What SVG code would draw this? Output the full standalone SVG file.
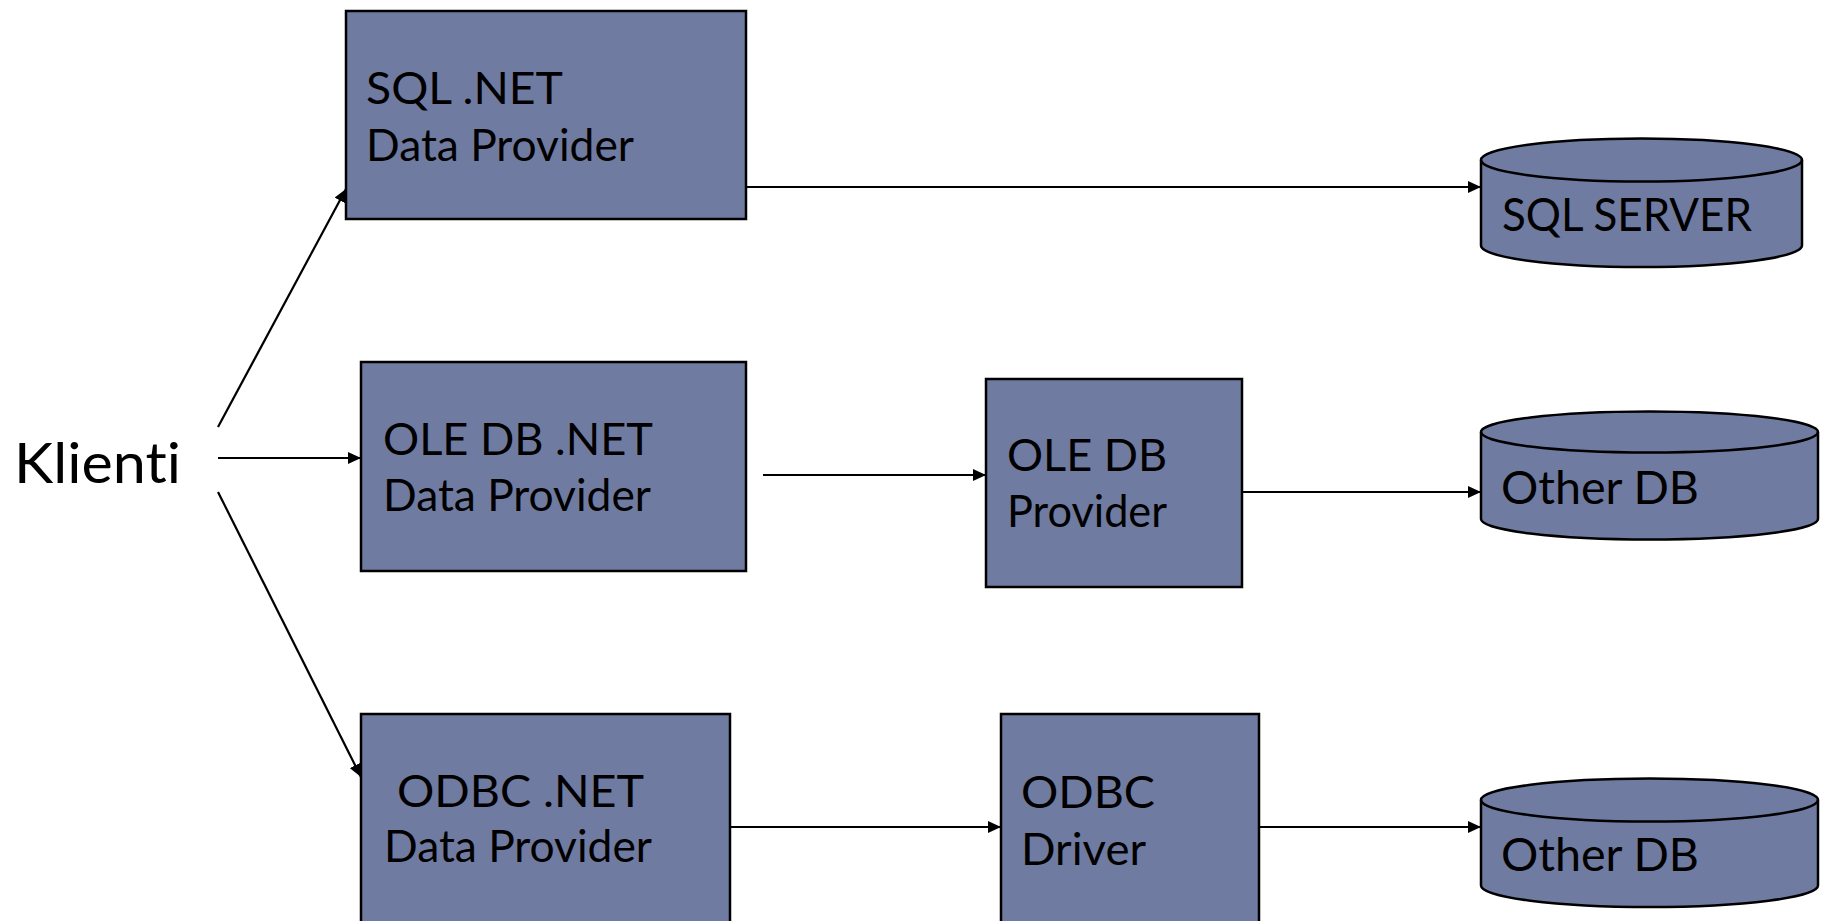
<svg xmlns="http://www.w3.org/2000/svg" width="1828" height="921" viewBox="0 0 1828 921">
  <style>
    .box { fill: #707ba1; stroke: #000; stroke-width: 2.5; }
    .t { font-family: "Lato", "Liberation Sans", sans-serif; font-size: 44px; fill: #000; font-variant-ligatures: none; }
    .cyl { font-size: 46px; }
    .big { font-size: 56px; }
    .con { stroke: #000; stroke-width: 2.2; fill: none; marker-end: url(#arr); }
  </style>
  <defs>
    <marker id="arr" markerUnits="userSpaceOnUse" markerWidth="14" markerHeight="12" refX="13" refY="6" orient="auto">
      <path d="M0,0 L13,6 L0,12 z" fill="#000"/>
    </marker>
  </defs>
  <rect width="1828" height="921" fill="#fff"/>

  <g id="klienti">
    <text class="t big" x="14" y="483" textLength="167" lengthAdjust="spacingAndGlyphs">Klienti</text>
  </g>

  <g id="sql-net">
    <rect class="box" x="346" y="11" width="400" height="208"/>
    <text class="t" x="366" y="104" textLength="197" lengthAdjust="spacingAndGlyphs">SQL .NET</text>
    <text class="t" x="366" y="161" textLength="268" lengthAdjust="spacingAndGlyphs">Data Provider</text>
  </g>

  <g id="oledb-net">
    <rect class="box" x="361" y="362" width="385" height="209"/>
    <text class="t" x="383" y="455" textLength="270" lengthAdjust="spacingAndGlyphs">OLE DB .NET</text>
    <text class="t" x="383" y="511" textLength="268" lengthAdjust="spacingAndGlyphs">Data Provider</text>
  </g>

  <g id="odbc-net">
    <rect class="box" x="361" y="714" width="369" height="230"/>
    <text class="t" x="397" y="807" textLength="247" lengthAdjust="spacingAndGlyphs">ODBC .NET</text>
    <text class="t" x="384" y="862" textLength="268" lengthAdjust="spacingAndGlyphs">Data Provider</text>
  </g>

  <g id="oledb-provider">
    <rect class="box" x="986" y="379" width="256" height="208"/>
    <text class="t" x="1007" y="471" textLength="160" lengthAdjust="spacingAndGlyphs">OLE DB</text>
    <text class="t" x="1007" y="527" textLength="160" lengthAdjust="spacingAndGlyphs">Provider</text>
  </g>

  <g id="odbc-driver">
    <rect class="box" x="1001" y="714" width="258" height="230"/>
    <text class="t" x="1021" y="808" textLength="134" lengthAdjust="spacingAndGlyphs">ODBC</text>
    <text class="t" x="1021" y="865" textLength="125" lengthAdjust="spacingAndGlyphs">Driver</text>
  </g>

  <g id="sql-server">
    <path class="box" d="M1481,160 A160.5,21.5 0 0 1 1802,160 L1802,245.5 A160.5,21.5 0 0 1 1481,245.5 Z"/>
    <path class="box" d="M1481,160 A160.5,21.5 0 0 0 1802,160" style="fill:none"/>
    <text class="t cyl" x="1502" y="231" textLength="250" lengthAdjust="spacingAndGlyphs">SQL SERVER</text>
  </g>

  <g id="other-db-1">
    <path class="box" d="M1481,432 A168.5,20.5 0 0 1 1818,432 L1818,519 A168.5,20.5 0 0 1 1481,519 Z"/>
    <path class="box" d="M1481,432 A168.5,20.5 0 0 0 1818,432" style="fill:none"/>
    <text class="t cyl" x="1501" y="504" textLength="198" lengthAdjust="spacingAndGlyphs">Other DB</text>
  </g>

  <g id="other-db-2">
    <path class="box" d="M1481,800 A168.5,21.5 0 0 1 1818,800 L1818,885.5 A168.5,21.5 0 0 1 1481,885.5 Z"/>
    <path class="box" d="M1481,800 A168.5,21.5 0 0 0 1818,800" style="fill:none"/>
    <text class="t cyl" x="1501" y="871" textLength="198" lengthAdjust="spacingAndGlyphs">Other DB</text>
  </g>

  <g id="connectors">
    <line class="con" x1="218" y1="427" x2="346" y2="189"/>
    <line class="con" x1="218" y1="458" x2="361" y2="458"/>
    <line class="con" x1="218" y1="492" x2="361" y2="777"/>
    <line class="con" x1="746" y1="187" x2="1481" y2="187"/>
    <line class="con" x1="763" y1="475" x2="986" y2="475"/>
    <line class="con" x1="1242" y1="492" x2="1481" y2="492"/>
    <line class="con" x1="730" y1="827" x2="1001" y2="827"/>
    <line class="con" x1="1259" y1="827" x2="1481" y2="827"/>
  </g>
</svg>
